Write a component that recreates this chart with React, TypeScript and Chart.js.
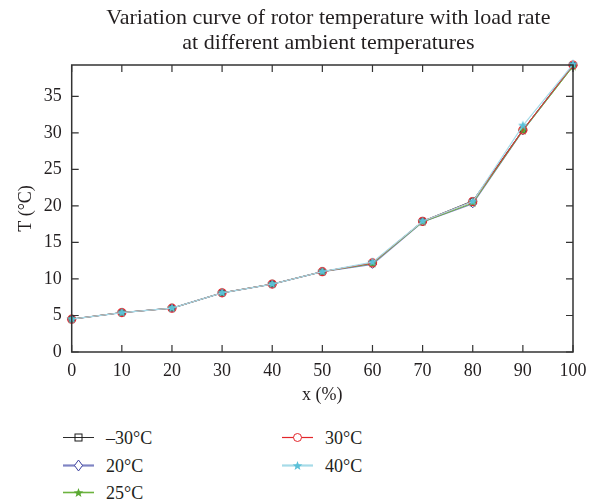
import React, { useEffect, useRef } from "react";
import { Chart, registerables } from "chart.js";

Chart.register(...registerables);

const xValues = [0, 10, 20, 30, 40, 50, 60, 70, 80, 90, 100];
const tM30 = [4.5, 5.4, 6.0, 8.1, 9.3, 11.0, 12.2, 17.9, 20.7, 30.4, 39.3];
const t20 = [4.5, 5.4, 6.0, 8.1, 9.3, 11.0, 12.0, 17.8, 20.3, 30.3, 39.2];
const t25 = [4.5, 5.4, 6.0, 8.1, 9.3, 11.0, 12.1, 17.8, 20.4, 30.3, 39.1];
const t30 = [4.5, 5.4, 6.0, 8.1, 9.3, 11.0, 12.2, 17.9, 20.6, 30.4, 39.3];
const t40 = [4.5, 5.4, 6.0, 8.1, 9.3, 11.0, 12.3, 17.9, 20.6, 31.0, 39.4];
const seriesLabels = ["–30°C", "20°C", "25°C", "30°C", "40°C"];
const xTicks = [0, 10, 20, 30, 40, 50, 60, 70, 80, 90, 100];
const yTicks = [0, 5, 10, 15, 20, 25, 30, 35];
const titleLines = [
  "Variation curve of rotor temperature with load rate",
  "at different ambient temperatures",
];

const FONT = "'Liberation Serif', 'Times New Roman', serif";
const TEXT = "#231f20";
const AXIS = "#333333";

const colors = {
  m30: { line: "#2b2b2b", mark: "#1a1a1a" },
  c20: { line: "#7f84c4", mark: "#3f44a0" },
  c25: { line: "#6cb33e", mark: "#5aa832" },
  c30: { line: "#e3262b", mark: "#e3262b" },
  c40: { line: "#a6dbe8", mark: "#5bc0d8" },
};

function makeStar(color: string, r: number): HTMLCanvasElement {
  const c = document.createElement("canvas");
  const s = Math.ceil(2 * r + 2);
  c.width = s;
  c.height = s;
  const ctx = c.getContext("2d")!;
  const cx = s / 2;
  const cy = s / 2;
  ctx.beginPath();
  for (let i = 0; i < 10; i++) {
    const rad = i % 2 === 0 ? r : r * 0.42;
    const a = -Math.PI / 2 + (i * Math.PI) / 5;
    const px = cx + rad * Math.cos(a);
    const py = cy + rad * Math.sin(a);
    if (i === 0) ctx.moveTo(px, py);
    else ctx.lineTo(px, py);
  }
  ctx.closePath();
  ctx.fillStyle = color;
  ctx.fill();
  return c;
}

const titlePlugin = {
  id: "centeredTitle",
  afterDraw(chart: any) {
    const { ctx, chartArea } = chart;
    const cx = (chartArea.left + chartArea.right) / 2 + 6;
    ctx.save();
    ctx.fillStyle = TEXT;
    ctx.font = `22px ${FONT}`;
    ctx.textAlign = "center";
    ctx.textBaseline = "middle";
    titleLines.forEach((t, i) => {
      ctx.fillText(t, cx, 18 + i * 25.5);
    });
    ctx.restore();
  },
};

const boxPlugin = {
  id: "boxTicks",
  afterDatasetsDraw(chart: any) {
    const { ctx, chartArea } = chart;
    const xs = chart.scales.x;
    const ys = chart.scales.y;
    const { left, right, top, bottom } = chartArea;
    const tl = 7;
    ctx.save();
    ctx.strokeStyle = AXIS;
    ctx.lineWidth = 1.5;
    ctx.beginPath();
    ctx.rect(left, top, right - left, bottom - top);
    ctx.stroke();
    ctx.lineWidth = 1.2;
    ctx.beginPath();
    xTicks.forEach((v) => {
      const px = xs.getPixelForValue(v);
      ctx.moveTo(px, bottom);
      ctx.lineTo(px, bottom - tl);
      ctx.moveTo(px, top);
      ctx.lineTo(px, top + tl);
    });
    yTicks.forEach((v) => {
      const py = ys.getPixelForValue(v);
      ctx.moveTo(left, py);
      ctx.lineTo(left + tl, py);
      ctx.moveTo(right, py);
      ctx.lineTo(right - tl, py);
    });
    ctx.stroke();
    ctx.restore();
  },
};

function LegendMarker({ kind, color }: { kind: string; color: string }) {
  if (kind === "rect")
    return <rect x={12} y={6} width={7} height={7} fill="none" stroke={color} strokeWidth={1} />;
  if (kind === "diamond")
    return <polygon points="15.5,4 19.5,9.5 15.5,15 11.5,9.5" fill="#fff" stroke={color} strokeWidth={1} />;
  if (kind === "circle")
    return <circle cx={15.5} cy={9.5} r={4} fill="#fff" stroke={color} strokeWidth={1} />;
  const pts: string[] = [];
  for (let i = 0; i < 10; i++) {
    const rad = i % 2 === 0 ? 5 : 2.1;
    const a = -Math.PI / 2 + (i * Math.PI) / 5;
    pts.push(`${15.5 + rad * Math.cos(a)},${10 + rad * Math.sin(a)}`);
  }
  return <polygon points={pts.join(" ")} fill={color} stroke="none" />;
}

function LegendItem(props: {
  x: number;
  y: number;
  label: string;
  line: string;
  lw: number;
  kind: string;
  mark: string;
}) {
  return (
    <div
      style={{
        position: "absolute",
        left: props.x,
        top: props.y - 10,
        height: 20,
        display: "flex",
        alignItems: "center",
        fontFamily: FONT,
        fontSize: 18,
        color: TEXT,
        whiteSpace: "nowrap",
      }}
    >
      <svg width={31} height={20} style={{ display: "block" }}>
        <line x1={0} y1={9.5} x2={31} y2={9.5} stroke={props.line} strokeWidth={props.lw} />
        <LegendMarker kind={props.kind} color={props.mark} />
      </svg>
      <span style={{ marginLeft: 12, lineHeight: "20px" }}>{props.label}</span>
    </div>
  );
}

export default function App() {
  const ref = useRef<HTMLCanvasElement | null>(null);

  useEffect(() => {
    document.body.style.margin = "0";
    const canvas = ref.current;
    if (!canvas) return;
    const toPts = (arr: number[]) => xValues.map((x, i) => ({ x, y: arr[i] }));
    const star25 = makeStar(colors.c25.mark, 5);
    const star40 = makeStar(colors.c40.mark, 5);
    const tickFont = { family: FONT, size: 18 };

    const chart = new Chart(canvas, {
      type: "line",
      data: {
        datasets: [
          {
            label: seriesLabels[0],
            data: toPts(tM30),
            borderColor: colors.m30.line,
            borderWidth: 1,
            pointStyle: "rect",
            pointRadius: 3.5,
            pointBorderColor: colors.m30.mark,
            pointBackgroundColor: "rgba(0,0,0,0)",
            pointBorderWidth: 1,
            order: 4,
          },
          {
            label: seriesLabels[1],
            data: toPts(t20),
            borderColor: colors.c20.line,
            borderWidth: 1.2,
            pointStyle: "rectRot",
            pointRadius: 4,
            pointBorderColor: colors.c20.mark,
            pointBackgroundColor: "rgba(0,0,0,0)",
            pointBorderWidth: 1,
            order: 3,
          },
          {
            label: seriesLabels[2],
            data: toPts(t25),
            borderColor: colors.c25.line,
            borderWidth: 1,
            pointStyle: star25,
            pointRadius: 5,
            order: 2,
          },
          {
            label: seriesLabels[3],
            data: toPts(t30),
            borderColor: colors.c30.line,
            borderWidth: 1,
            pointStyle: "circle",
            pointRadius: 4,
            pointBorderColor: colors.c30.mark,
            pointBackgroundColor: "rgba(0,0,0,0)",
            pointBorderWidth: 1.2,
            order: 1,
          },
          {
            label: seriesLabels[4],
            data: toPts(t40),
            borderColor: colors.c40.line,
            borderWidth: 1.2,
            pointStyle: star40,
            pointRadius: 5,
            order: 0,
          },
        ],
      },
      options: {
        animation: false,
        responsive: false,
        clip: false as any,
        layout: { padding: { left: 0, right: 22, top: 65, bottom: 0 } },
        plugins: {
          legend: { display: false },
          tooltip: { enabled: false },
          title: { display: false },
        },
        scales: {
          x: {
            type: "linear",
            min: 0,
            max: 100,
            afterBuildTicks: (s: any) => {
              s.ticks = xTicks.map((v) => ({ value: v }));
            },
            afterFit: (s: any) => {
              s.height = 58;
            },
            grid: { display: false, drawTicks: false },
            border: { display: false },
            ticks: {
              color: TEXT,
              font: tickFont,
              padding: 8,
              maxRotation: 0,
              autoSkip: false,
            },
            title: {
              display: true,
              text: "x (%)",
              color: TEXT,
              font: tickFont,
              padding: { top: 0, bottom: 4 },
            },
          },
          y: {
            type: "linear",
            min: 0,
            max: 39.3,
            afterBuildTicks: (s: any) => {
              s.ticks = yTicks.map((v) => ({ value: v }));
            },
            afterFit: (s: any) => {
              s.width = 71.7;
            },
            grid: { display: false, drawTicks: false },
            border: { display: false },
            ticks: {
              color: TEXT,
              font: tickFont,
              padding: 10,
              autoSkip: false,
            },
            title: {
              display: true,
              text: "T (°C)",
              color: TEXT,
              font: tickFont,
              padding: { top: 15, bottom: 0 },
            },
          },
        },
      },
      plugins: [boxPlugin, titlePlugin],
    } as any);

    return () => chart.destroy();
  }, []);

  return (
    <div style={{ position: "relative", width: 595, height: 503, background: "#fff" }}>
      <canvas ref={ref} width={595} height={410} style={{ position: "absolute", left: 0, top: 0 }} />
      <LegendItem x={63} y={438} label={seriesLabels[0]} line={colors.m30.line} lw={1} kind="rect" mark={colors.m30.mark} />
      <LegendItem x={63} y={466} label={seriesLabels[1]} line={colors.c20.line} lw={2.2} kind="diamond" mark={colors.c20.mark} />
      <LegendItem x={63} y={493} label={seriesLabels[2]} line={colors.c25.line} lw={1.6} kind="star" mark={colors.c25.mark} />
      <LegendItem x={282} y={438} label={seriesLabels[3]} line={colors.c30.line} lw={1.2} kind="circle" mark={colors.c30.mark} />
      <LegendItem x={282} y={466} label={seriesLabels[4]} line={colors.c40.line} lw={2.2} kind="star" mark={colors.c40.mark} />
    </div>
  );
}
